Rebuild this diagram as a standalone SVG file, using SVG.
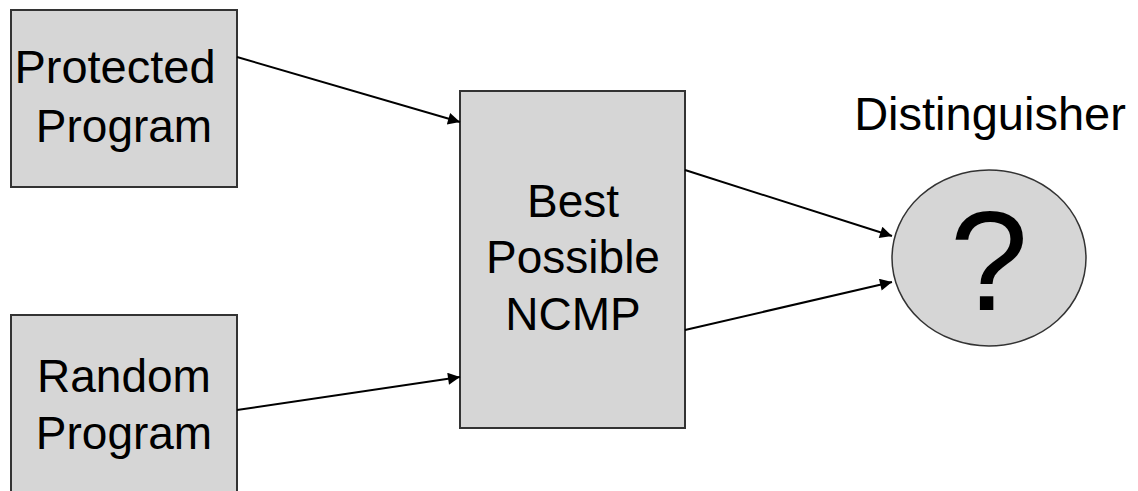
<svg xmlns="http://www.w3.org/2000/svg" width="1138" height="491" viewBox="0 0 1138 491">
<style>
.box{fill:#d6d6d6;stroke:#333;stroke-width:2}
.t{font-family:"Liberation Sans",Arial,sans-serif;font-size:46px;fill:#000;text-anchor:middle}
.c{stroke:#000;stroke-width:2;fill:none;marker-end:url(#ah)}
</style>
<defs>
<marker id="ah" viewBox="0 0 10 10" refX="10" refY="5" markerUnits="userSpaceOnUse" markerWidth="16" markerHeight="12" orient="auto">
<path d="M0,0 L10,5 L0,10 z" fill="#000"/>
</marker>
</defs>
<rect width="1138" height="491" fill="#fff"/>
<g id="protected">
<rect class="box" x="11" y="10" width="226" height="177"/>
<text class="t" x="115" y="83" style="font-size:47px">Protected</text>
<text class="t" x="124" y="142">Program</text>
</g>
<g id="random">
<rect class="box" x="11" y="315" width="226" height="190"/>
<text class="t" x="124" y="392">Random</text>
<text class="t" x="124" y="449">Program</text>
</g>
<g id="ncmp">
<rect class="box" x="460" y="91" width="225" height="337"/>
<text class="t" x="573" y="217">Best</text>
<text class="t" x="573" y="273">Possible</text>
<text class="t" x="573" y="330">NCMP</text>
</g>
<g id="distinguisher">
<ellipse cx="989" cy="258" rx="97" ry="88" fill="#d6d6d6" stroke="#333" stroke-width="1.5"/>
<text class="t" x="989" y="310" style="font-size:141px">?</text>
<text class="t" x="990" y="130" style="font-size:47px">Distinguisher</text>
</g>
<g id="connectors">
<line class="c" x1="237" y1="57" x2="460" y2="122"/>
<line class="c" x1="237" y1="410" x2="460" y2="377"/>
<line class="c" x1="685" y1="170" x2="892" y2="236"/>
<line class="c" x1="685" y1="330" x2="892" y2="282"/>
</g>
</svg>
